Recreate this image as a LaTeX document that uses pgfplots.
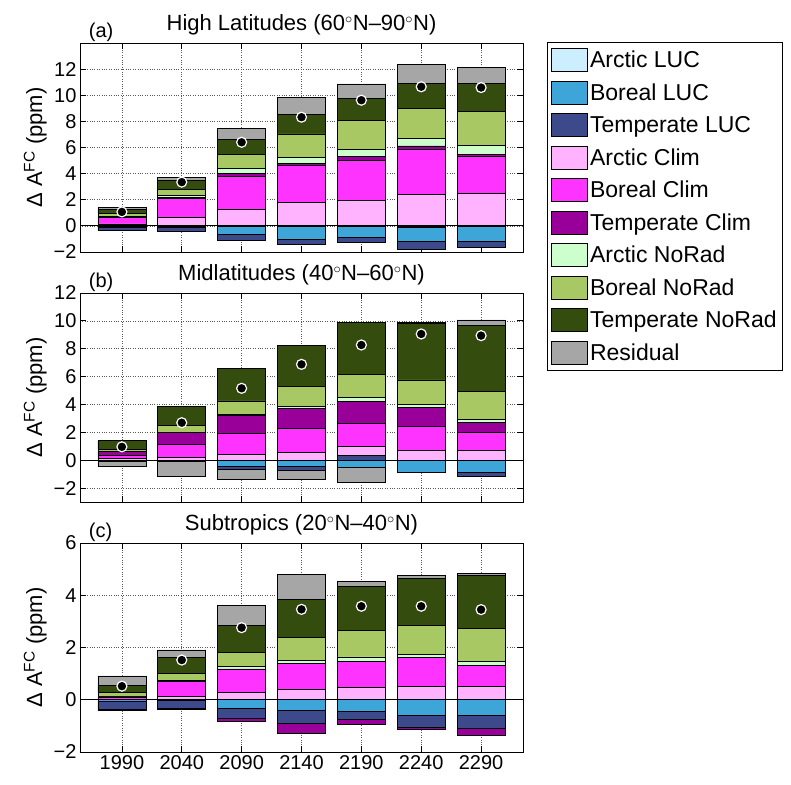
\documentclass[border=0pt]{standalone}
\usepackage{fontspec}
\setmainfont{Liberation Sans}
\usepackage{pgfplots}
\usepackage{pgfplotstable}
\pgfplotsset{compat=1.18}

\definecolor{aluc}{RGB}{204,238,255}
\definecolor{bluc}{RGB}{62,165,217}
\definecolor{tluc}{RGB}{60,74,140}
\definecolor{acl}{RGB}{255,179,255}
\definecolor{bcl}{RGB}{255,51,255}
\definecolor{tcl}{RGB}{153,0,153}
\definecolor{anr}{RGB}{204,255,204}
\definecolor{bnr}{RGB}{168,200,100}
\definecolor{tnr}{RGB}{52,77,15}
\definecolor{res}{RGB}{166,166,166}

% high latitudes
\pgfplotstableread{
yr   ALUC  BLUC  TLUC  ACl  BCl  TCl  ANR  BNR  TNR  Res  net
1990 -0.02 -0.10 -0.24 0.15 0.50 0.05 0.05 0.20 0.30 0.15 1.07
2040 -0.02 -0.12 -0.28 0.64 1.48 0.06 0.12 0.50 0.66 0.28 3.35
2090 -0.02 -0.62 -0.43 1.28 2.48 0.26 0.38 1.10 1.13 0.84 6.40
2140 -0.05 -0.95 -0.45 1.77 2.89 0.13 0.46 1.79 1.51 1.28 8.32
2190 -0.03 -0.88 -0.35 1.92 3.10 0.28 0.56 2.23 1.68 1.10 9.62
2240 -0.10 -1.10 -0.57 2.41 3.45 0.26 0.58 2.26 1.97 1.45 10.65
2290 -0.03 -1.12 -0.46 2.48 2.87 0.15 0.64 2.64 2.10 1.27 10.59
}\tbla
% midlatitudes
\pgfplotstableread{
yr   ALUC  BLUC  TLUC  ACl  BCl  TCl  ANR  BNR  TNR  Res   net
1990  0.00 -0.02 -0.04 0.12 0.20 0.28 0.05 0.14 0.60 -0.35 0.96
2040  0.00 -0.05 -0.05 0.20 0.95 0.82 0.05 0.45 1.39 -1.08 2.69
2090 -0.03 -0.42 -0.24 0.41 1.51 1.28 0.10 0.96 2.31 -0.70 5.16
2140 -0.02 -0.41 -0.29 0.58 1.72 1.39 0.19 1.40 2.97 -0.67 6.88
2190  0.00 -0.48  0.36 0.65 1.63 1.60 0.29 1.63 3.72 -1.10 8.27
2240 -0.04 -0.82 -0.04 0.72 1.68 1.39 0.21 1.76 4.07  0.07 9.06
2290 -0.02 -0.82 -0.29 0.72 1.25 0.72 0.26 1.97 4.77  0.38 8.94
}\tblb
% subtropics
\pgfplotstableread{
yr   ALUC BLUC  TLUC  ACl  BCl  TCl   ANR  BNR  TNR  Res  net
1990 0.00 -0.07 -0.28 0.03 0.08 -0.06 0.02 0.14 0.27 0.37 0.52
2040 0.00 -0.03 -0.31 0.13 0.56 -0.04 0.04 0.29 0.61 0.28 1.52
2090 0.00 -0.31 -0.41 0.28 0.90 -0.12 0.09 0.53 1.04 0.76 2.76
2140 0.00 -0.41 -0.50 0.38 1.01 -0.38 0.12 0.88 1.46 0.94 3.46
2190 0.00 -0.45 -0.30 0.46 1.00 -0.18 0.18 1.03 1.66 0.21 3.58
2240 0.00 -0.59 -0.45 0.51 1.11 -0.10 0.12 1.10 1.81 0.12 3.58
2290 0.00 -0.60 -0.50 0.51 0.82 -0.25 0.15 1.25 2.02 0.09 3.45
}\tblc

\pgfplotsset{
  panel/.style={width=443pt, height=209pt, scale only axis, anchor=north west,
    xmin=1955, xmax=2325, xtick={1990,2040,...,2290}},
  frame/.style={panel, ybar stacked, bar width=40,
    grid=major, grid style={dotted, gray!70!black, line width=0.7pt},
    axis line style={black, line width=1pt},
    tick align=inside, major tick length=6pt,
    every tick/.style={black, line width=0.8pt},
    tick label style={font=\fontsize{20}{24}\selectfont},
    title style={font=\fontsize{22}{26}\selectfont, yshift=-2pt},
    ylabel style={font=\fontsize{22}{26}\selectfont},
    ylabel={Δ A\textsuperscript{FC} (ppm)}},
  negs/.style={panel, hide axis, ybar stacked, bar width=40},
  dots/.style={panel, hide axis, clip=false},
  seg/.style={fill=#1, draw=black, line width=0.7pt},
}

% positive parts stack upward, negative parts downward (separate axes)
\newcommand{\posbars}[1]{%
  \addplot[seg=aluc] table[x=yr, y expr={max(\thisrow{ALUC},0)}] {#1};
  \addplot[seg=bluc] table[x=yr, y expr={max(\thisrow{BLUC},0)}] {#1};
  \addplot[seg=tluc] table[x=yr, y expr={max(\thisrow{TLUC},0)}] {#1};
  \addplot[seg=acl] table[x=yr, y expr={max(\thisrow{ACl},0)}] {#1};
  \addplot[seg=bcl] table[x=yr, y expr={max(\thisrow{BCl},0)}] {#1};
  \addplot[seg=tcl] table[x=yr, y expr={max(\thisrow{TCl},0)}] {#1};
  \addplot[seg=anr] table[x=yr, y expr={max(\thisrow{ANR},0)}] {#1};
  \addplot[seg=bnr] table[x=yr, y expr={max(\thisrow{BNR},0)}] {#1};
  \addplot[seg=tnr] table[x=yr, y expr={max(\thisrow{TNR},0)}] {#1};
  \addplot[seg=res] table[x=yr, y expr={max(\thisrow{Res},0)}] {#1};
}
\newcommand{\negbars}[1]{%
  \addplot[seg=aluc] table[x=yr, y expr={min(\thisrow{ALUC},0)}] {#1};
  \addplot[seg=bluc] table[x=yr, y expr={min(\thisrow{BLUC},0)}] {#1};
  \addplot[seg=tluc] table[x=yr, y expr={min(\thisrow{TLUC},0)}] {#1};
  \addplot[seg=acl] table[x=yr, y expr={min(\thisrow{ACl},0)}] {#1};
  \addplot[seg=bcl] table[x=yr, y expr={min(\thisrow{BCl},0)}] {#1};
  \addplot[seg=tcl] table[x=yr, y expr={min(\thisrow{TCl},0)}] {#1};
  \addplot[seg=anr] table[x=yr, y expr={min(\thisrow{ANR},0)}] {#1};
  \addplot[seg=bnr] table[x=yr, y expr={min(\thisrow{BNR},0)}] {#1};
  \addplot[seg=tnr] table[x=yr, y expr={min(\thisrow{TNR},0)}] {#1};
  \addplot[seg=res] table[x=yr, y expr={min(\thisrow{Res},0)}] {#1};
}
\newcommand{\netdots}[1]{%
  \addplot[black, line width=1pt] coordinates {(1955,0) (2325,0)};
  \addplot[only marks, mark=*, mark size=5pt,
    mark options={fill=black, draw=white, line width=1.2pt}]
    table[x=yr, y=net] {#1};
}

\begin{document}
\begin{tikzpicture}
\useasboundingbox (0,0) rectangle (791pt,-784pt);

% (a)
\begin{axis}[frame, at={(80pt,-43pt)}, ymin=-2, ymax=14,
  ytick={-2,0,...,12}, yticklabels={−2,0,2,4,6,8,10,12}, xticklabels={},
  title={High Latitudes (60$^{\circ}$N–90$^{\circ}$N)},
  legend entries={Arctic LUC, Boreal LUC, Temperate LUC, Arctic Clim,
    Boreal Clim, Temperate Clim, Arctic NoRad, Boreal NoRad,
    Temperate NoRad, Residual},
  legend cell align=left,
  legend image code/.code={\draw[#1] (0pt,-11.5pt) rectangle (36pt,11.5pt);},
  legend style={at={(1.054,1.005)}, anchor=north west, draw=black,
    line width=0.8pt, font=\fontsize{23}{27}\selectfont, row sep=8.8pt,
    inner xsep=4pt, inner ysep=6pt}]
\posbars{\tbla}
\end{axis}
\begin{axis}[negs, at={(80pt,-43pt)}, ymin=-2, ymax=14]
\negbars{\tbla}
\end{axis}
\begin{axis}[dots, at={(80pt,-43pt)}, ymin=-2, ymax=14]
\netdots{\tbla}
\node[anchor=base west, font=\fontsize{20}{24}\selectfont]
  at (rel axis cs:0.012,1.024) {(a)};
\end{axis}

% (b)
\begin{axis}[frame, at={(80pt,-293pt)}, ymin=-3, ymax=12,
  ytick={-2,0,...,12}, yticklabels={−2,0,2,4,6,8,10,12}, xticklabels={},
  title={Midlatitudes (40$^{\circ}$N–60$^{\circ}$N)}]
\posbars{\tblb}
\end{axis}
\begin{axis}[negs, at={(80pt,-293pt)}, ymin=-3, ymax=12]
\negbars{\tblb}
\end{axis}
\begin{axis}[dots, at={(80pt,-293pt)}, ymin=-3, ymax=12]
\netdots{\tblb}
\node[anchor=base west, font=\fontsize{20}{24}\selectfont]
  at (rel axis cs:0.012,1.024) {(b)};
\end{axis}

% (c)
\begin{axis}[frame, at={(80pt,-543pt)}, ymin=-2, ymax=6,
  ytick={-2,0,...,6}, yticklabels={−2,0,2,4,6},
  xticklabels={1990,2040,2090,2140,2190,2240,2290},
  title={Subtropics (20$^{\circ}$N–40$^{\circ}$N)}]
\posbars{\tblc}
\end{axis}
\begin{axis}[negs, at={(80pt,-543pt)}, ymin=-2, ymax=6]
\negbars{\tblc}
\end{axis}
\begin{axis}[dots, at={(80pt,-543pt)}, ymin=-2, ymax=6]
\netdots{\tblc}
\node[anchor=base west, font=\fontsize{20}{24}\selectfont]
  at (rel axis cs:0.012,1.024) {(c)};
\end{axis}
\end{tikzpicture}
\end{document}
